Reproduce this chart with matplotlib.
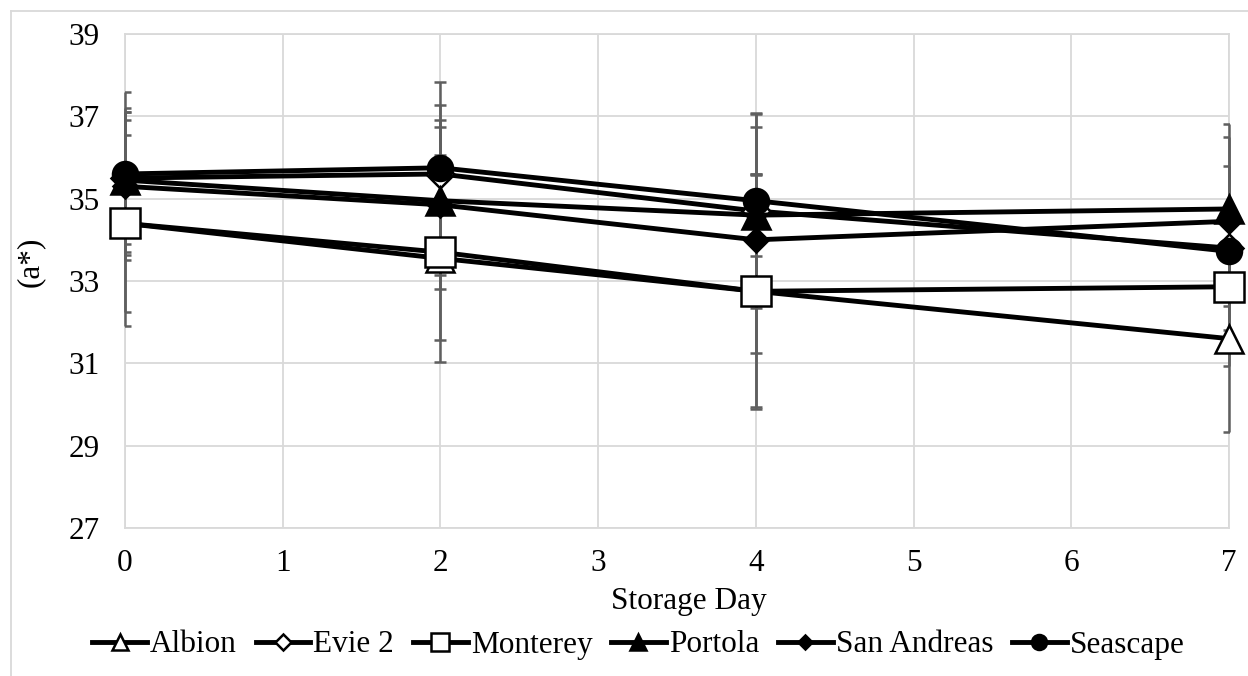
import matplotlib
matplotlib.use('Agg')
import matplotlib.pyplot as plt
from matplotlib.lines import Line2D

plt.rcParams['font.family'] = ['Liberation Serif', 'DejaVu Serif']

# ---- data ----
days = [0, 2, 4, 7]
series_names = ['Albion', 'Evie 2', 'Monterey', 'Portola', 'San Andreas', 'Seascape']
albion = [34.40, 33.55, 32.75, 31.60]
evie2 = [35.50, 35.60, 34.70, 33.80]
monterey = [34.40, 33.70, 32.75, 32.86]
portola = [35.45, 34.95, 34.60, 34.75]
san_andreas = [35.30, 34.85, 34.00, 34.45]
seascape = [35.60, 35.75, 34.95, 33.72]

albion_err = [2.50, 2.51, 2.85, 2.26]
evie2_err = [1.60, 1.67, 2.35, 2.00]
monterey_err = [2.15, 2.14, 2.82, 1.93]
portola_err = [1.75, 1.80, 1.00, 2.07]
san_andreas_err = [1.80, 2.05, 2.75, 2.05]
seascape_err = [1.98, 2.08, 2.12, 1.00]

x_ticks = [0, 1, 2, 3, 4, 5, 6, 7]
y_ticks = [27, 29, 31, 33, 35, 37, 39]

values = [albion, evie2, monterey, portola, san_andreas, seascape]
errors = [albion_err, evie2_err, monterey_err, portola_err, san_andreas_err, seascape_err]

# ---- styles ----
styles = [
    dict(marker='^', ms=20, mfc='white'),
    dict(marker='D', ms=14, mfc='white'),
    dict(marker='s', ms=21, mfc='white'),
    dict(marker='^', ms=20, mfc='black'),
    dict(marker='D', ms=12, mfc='black'),
    dict(marker='o', ms=18, mfc='black'),
]

W, H = 1248, 676
fig = plt.figure(figsize=(W / 100, H / 100), dpi=100)
ax = fig.add_axes([125 / W, 1 - 528 / H, (1229 - 125) / W, (528 - 34) / H])

grid_c = '#d9d9d9'
for e_vals, e_err in zip(values, errors):
    eb = ax.errorbar(days, e_vals, yerr=e_err, fmt='none', ecolor='#5f5f5f',
                     elinewidth=1.8, capsize=4.3, capthick=1.8, zorder=2.6)
    for bl in eb[2]:
        bl.set_clip_on(False)

handles = []
for i, (name, vals, st) in enumerate(zip(series_names, values, styles)):
    ln, = ax.plot(days, vals, color='black', lw=3.5, marker=st['marker'],
                  ms=st['ms'], mfc=st['mfc'], mec='black', mew=1.8,
                  zorder=3 + i, label=name, clip_on=False)
    handles.append(ln)

ax.set_xlim(0, 7)
ax.set_ylim(27, 39)
ax.set_xticks(x_ticks)
ax.set_yticks(y_ticks)
ax.tick_params(axis='both', length=0, labelsize=22.5)
ax.tick_params(axis='y', pad=18)
ax.tick_params(axis='x', pad=15)
ax.grid(True, color=grid_c, lw=1.3, zorder=0)
ax.set_axisbelow(True)
for sp in ax.spines.values():
    sp.set_color(grid_c)
    sp.set_linewidth(1.3)

fig.text(689 / W, 1 - 602 / H, 'Storage Day', ha='center', va='center', fontsize=22.5)
fig.text(30 / W, 1 - 262 / H, '(a*)', rotation=90, ha='center', va='center', fontsize=22.5)

leg = fig.legend(handles=handles, loc='center', bbox_to_anchor=(638.5 / W, 1 - 645 / H),
                 ncol=6, frameon=False, fontsize=22.5, handlelength=1.75,
                 handletextpad=0.1, columnspacing=0.6, markerscale=0.6,
                 borderaxespad=0, borderpad=0)

# chart-area border
fig.add_artist(Line2D([11 / W, 11 / W], [0, 1 - 11 / H], transform=fig.transFigure,
                      color=grid_c, lw=1.3))
fig.add_artist(Line2D([11 / W, 1], [1 - 11 / H, 1 - 11 / H], transform=fig.transFigure,
                      color=grid_c, lw=1.3))

fig.savefig('out.png', dpi=100)
